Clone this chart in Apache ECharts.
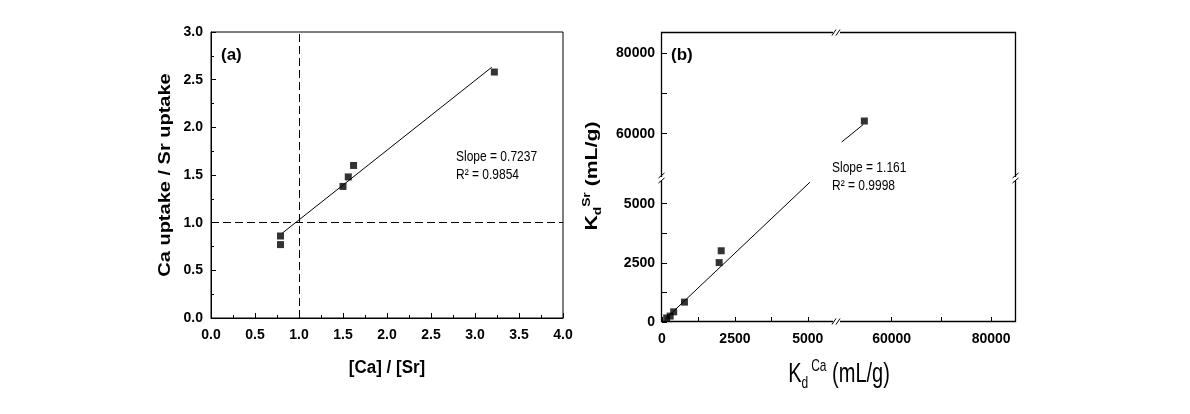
<!DOCTYPE html>
<html><head><meta charset="utf-8">
<script src="https://cdn.jsdelivr.net/npm/echarts@6/dist/echarts.min.js"></script>
<style>html,body{margin:0;padding:0;background:#fff}#c{width:1190px;height:414px}</style>
</head><body><div id="c"></div>
<script>
// ---------- Panel (a) data ----------
const aRatio  = [0.79, 0.79, 1.50, 1.56, 1.62, 3.22];   // [Ca]/[Sr]
const aUptake = [0.77, 0.86, 1.38, 1.48, 1.60, 2.58];   // Ca uptake / Sr uptake
const aFitX = [0.81, 3.19];
const aFitY = [0.89, 2.63];
const aRefLines = [1.0, 1.0];   // dashed reference x = 1, y = 1
const aSlopeText = 'Slope = 0.7237';
const aR2Text = 'R\u00b2 = 0.9854';

// ---------- Panel (b) data ----------
const bKdCaLow = [160, 280, 400, 770, 1960, 2030];
const bKdSrLow = [170, 250, 430, 840, 2510, 3010];
const bKdCaHigh = [54500];
const bKdSrHigh = [63150];
const bFitLowX = [100, 5070];
const bFitLowY = [110, 5905];
const bFitHighX = [49950, 54300];
const bFitHighY = [57940, 62300];
const bSlopeText = 'Slope = 1.161';
const bR2Text = 'R\u00b2 = 0.9998';

// tick labels / tick positions
const bLowMajor = [0, 2500, 5000];
const bLowMinor = [1250, 3750];
const bHighMajor = [60000, 80000];
const bHighMinor = [70000];
const bLowRange = [0, 6000];
const bHighRange = [49000, 85000];

// ---------- layout ----------
const FF = 'Liberation Sans, Arial, sans-serif';
const A = {left: 211, top: 32, width: 352, height: 286};
const B = {left: 662, right: 1016, top: 33, bottom: 322, bx: 837, yTop: 178, yBot: 180};

const zip = (xs, ys) => xs.map((x, i) => [x, ys[i]]);
const lbl = (extra) => Object.assign({fontFamily: FF, fontWeight: 'bold', fontSize: 14, color: '#000'}, extra);
const blk = {color: '#000', width: 1};

function bAxis(gridIndex, range, major, minor, show, margin) {
  if (!show) return {gridIndex, type: 'value', min: range[0], max: range[1], show: false};
  return {
    gridIndex, type: 'value', min: range[0], max: range[1],
    axisLine: {show: false},
    splitLine: {show: false},
    axisTick: {show: true, inside: true, length: 5, customValues: major.concat(minor), lineStyle: blk},
    axisLabel: lbl({customValues: major, formatter: v => String(v), margin: margin})
  };
}

const grids = [
  Object.assign({show: true, borderColor: '#000', borderWidth: 1, backgroundColor: 'transparent'}, A),
  {left: B.left, top: B.yBot, width: B.bx - B.left, height: B.bottom - B.yBot},   // BL
  {left: B.bx, top: B.yBot, width: B.right - B.bx, height: B.bottom - B.yBot},    // BR
  {left: B.left, top: B.top, width: B.bx - B.left, height: B.yTop - B.top},       // TL
  {left: B.bx, top: B.top, width: B.right - B.bx, height: B.yTop - B.top}         // TR
];

const aAxisCommon = {
  type: 'value', interval: 0.5,
  axisLine: {show: true, lineStyle: blk},
  axisTick: {show: true, inside: true, length: 5, lineStyle: blk},
  minorTick: {show: true, splitNumber: 2, length: 3, lineStyle: blk},
  splitLine: {show: false}, minorSplitLine: {show: false},
};

const xAxes = [
  Object.assign({}, aAxisCommon, {gridIndex: 0, min: 0, max: 4, axisLabel: lbl({formatter: v => v.toFixed(1), margin: 10})}),
  bAxis(1, bLowRange, bLowMajor, bLowMinor, true, 10),
  bAxis(2, bHighRange, bHighMajor, bHighMinor, true, 10),
  bAxis(3, bLowRange, [], [], false),
  bAxis(4, bHighRange, [], [], false)
];
const yAxes = [
  Object.assign({}, aAxisCommon, {gridIndex: 0, min: 0, max: 3, axisLabel: lbl({formatter: v => v.toFixed(1), margin: 8})}),
  bAxis(1, bLowRange, bLowMajor, bLowMinor, true, 7),
  bAxis(2, bLowRange, [], [], false),
  bAxis(3, bHighRange, bHighMajor, bHighMinor, true, 7),
  bAxis(4, bHighRange, [], [], false)
];

const sq = {type: 'scatter', symbol: 'rect', symbolSize: 7, itemStyle: {color: '#000'}, z: 5};
const ln = {type: 'line', showSymbol: false, symbol: 'none', lineStyle: {color: '#000', width: 1}, z: 4};

const series = [
  Object.assign({}, sq, {xAxisIndex: 0, yAxisIndex: 0, data: zip(aRatio, aUptake),
    markLine: {silent: true, symbol: ['none', 'none'], label: {show: false},
      lineStyle: {type: [8, 4], color: '#000', width: 1},
      data: [{xAxis: aRefLines[0]}, {yAxis: aRefLines[1]}]}}),
  Object.assign({}, ln, {xAxisIndex: 0, yAxisIndex: 0, data: zip(aFitX, aFitY)}),
  Object.assign({}, sq, {xAxisIndex: 1, yAxisIndex: 1, data: zip(bKdCaLow, bKdSrLow)}),
  Object.assign({}, ln, {xAxisIndex: 1, yAxisIndex: 1, data: zip(bFitLowX, bFitLowY)}),
  Object.assign({}, sq, {xAxisIndex: 4, yAxisIndex: 4, data: zip(bKdCaHigh, bKdSrHigh)}),
  Object.assign({}, ln, {xAxisIndex: 4, yAxisIndex: 4, data: zip(bFitHighX, bFitHighY)})
];

// ---------- decorations: panel (b) frame and axis break marks ----------
function breakH(cx, cy) {   // break on a horizontal frame line
  return [
    {type: 'rect', z: 20, shape: {x: cx - 4, y: cy - 2, width: 7, height: 4}, style: {fill: '#fff'}},
    {type: 'line', z: 21, shape: {x1: cx - 5, y1: cy + 3, x2: cx - 1, y2: cy - 3}, style: {stroke: '#000', lineWidth: 1}},
    {type: 'line', z: 21, shape: {x1: cx - 1, y1: cy + 3, x2: cx + 3, y2: cy - 3}, style: {stroke: '#000', lineWidth: 1}}
  ];
}
function breakV(cx, cy) {   // break on a vertical frame line
  return [
    {type: 'rect', z: 20, shape: {x: cx - 2, y: cy - 2, width: 4, height: 4}, style: {fill: '#fff'}},
    {type: 'line', z: 21, shape: {x1: cx - 3, y1: cy - 1, x2: cx + 3, y2: cy - 6}, style: {stroke: '#000', lineWidth: 1}},
    {type: 'line', z: 21, shape: {x1: cx - 3, y1: cy + 4, x2: cx + 3, y2: cy - 1}, style: {stroke: '#000', lineWidth: 1}}
  ];
}
const midY = (B.yTop + B.yBot) / 2;

const txt = (x, y, text, font, extra) => Object.assign({type: 'text', z: 30, x, y,
  style: {text, font, fill: '#000', align: 'left', verticalAlign: 'middle'}}, extra || {});

const graphics = [
  {type: 'rect', z: 10, shape: {x: B.left - 0.5, y: B.top - 0.5, width: B.right - B.left, height: B.bottom - B.top},
    style: {fill: 'none', stroke: '#000', lineWidth: 1.3}},
  ...breakH(B.bx, B.bottom - 0.5), ...breakH(B.bx, B.top - 0.5),
  ...breakV(B.left - 0.5, midY), ...breakV(B.right - 0.5, midY),
  txt(221, 55, '(a)', 'bold 17px ' + FF),
  txt(671, 55, '(b)', 'bold 17px ' + FF),
  txt(456, 157, aSlopeText, '12px ' + FF, {scaleY: 1.25}),
  txt(456, 175, aR2Text, '12px ' + FF, {scaleY: 1.25}),
  txt(832, 168, bSlopeText, '12px ' + FF, {scaleY: 1.25}),
  txt(832, 186, bR2Text, '12px ' + FF, {scaleY: 1.25}),
  {type: 'text', z: 30, x: 387, y: 368, scaleY: 1.1,
    style: {text: '[Ca] / [Sr]', font: 'bold 17px ' + FF, fill: '#000', align: 'center', verticalAlign: 'middle'}},
  {type: 'text', z: 30, x: 166, y: 175, rotation: Math.PI / 2, scaleX: 1.25,
    style: {text: 'Ca uptake / Sr uptake', font: 'bold 16px ' + FF, fill: '#000', align: 'center', verticalAlign: 'middle'}},
  {type: 'text', z: 30, x: 839, y: 375, scaleY: 1.35,
    style: {text: '{k|K}{d|d}{c|Ca}{m| (mL/g)}', fill: '#000', align: 'center', verticalAlign: 'middle',
      rich: {
        k: {fontSize: 20, fontFamily: FF, lineHeight: 24, fill: '#000'},
        d: {fontSize: 12, fontFamily: FF, lineHeight: 12, verticalAlign: 'bottom', fill: '#000'},
        c: {fontSize: 12, fontFamily: FF, lineHeight: 12, verticalAlign: 'top', fill: '#000', padding: [0, 0, 0, 3]},
        m: {fontSize: 20, fontFamily: FF, lineHeight: 24, fill: '#000'}
      }}},
  {type: 'text', z: 30, x: 592, y: 176, rotation: Math.PI / 2, scaleX: 1.25,
    style: {text: '{k|K}{d|d}{c|Sr}{m| (mL/g)}', fill: '#000', align: 'center', verticalAlign: 'middle',
      rich: {
        k: {fontSize: 17, fontWeight: 'bold', fontFamily: FF, lineHeight: 22, fill: '#000'},
        d: {fontSize: 11, fontWeight: 'bold', fontFamily: FF, lineHeight: 11, verticalAlign: 'bottom', fill: '#000'},
        c: {fontSize: 11, fontWeight: 'bold', fontFamily: FF, lineHeight: 11, verticalAlign: 'top', fill: '#000'},
        m: {fontSize: 17, fontWeight: 'bold', fontFamily: FF, lineHeight: 22, fill: '#000'}
      }}}
];

const chart = echarts.init(document.getElementById('c'), null, {renderer: 'canvas'});
chart.setOption({
  animation: false,
  backgroundColor: '#fff',
  textStyle: {fontFamily: FF},
  grid: grids,
  xAxis: xAxes,
  yAxis: yAxes,
  series: series,
  graphic: graphics
});
</script></body></html>
